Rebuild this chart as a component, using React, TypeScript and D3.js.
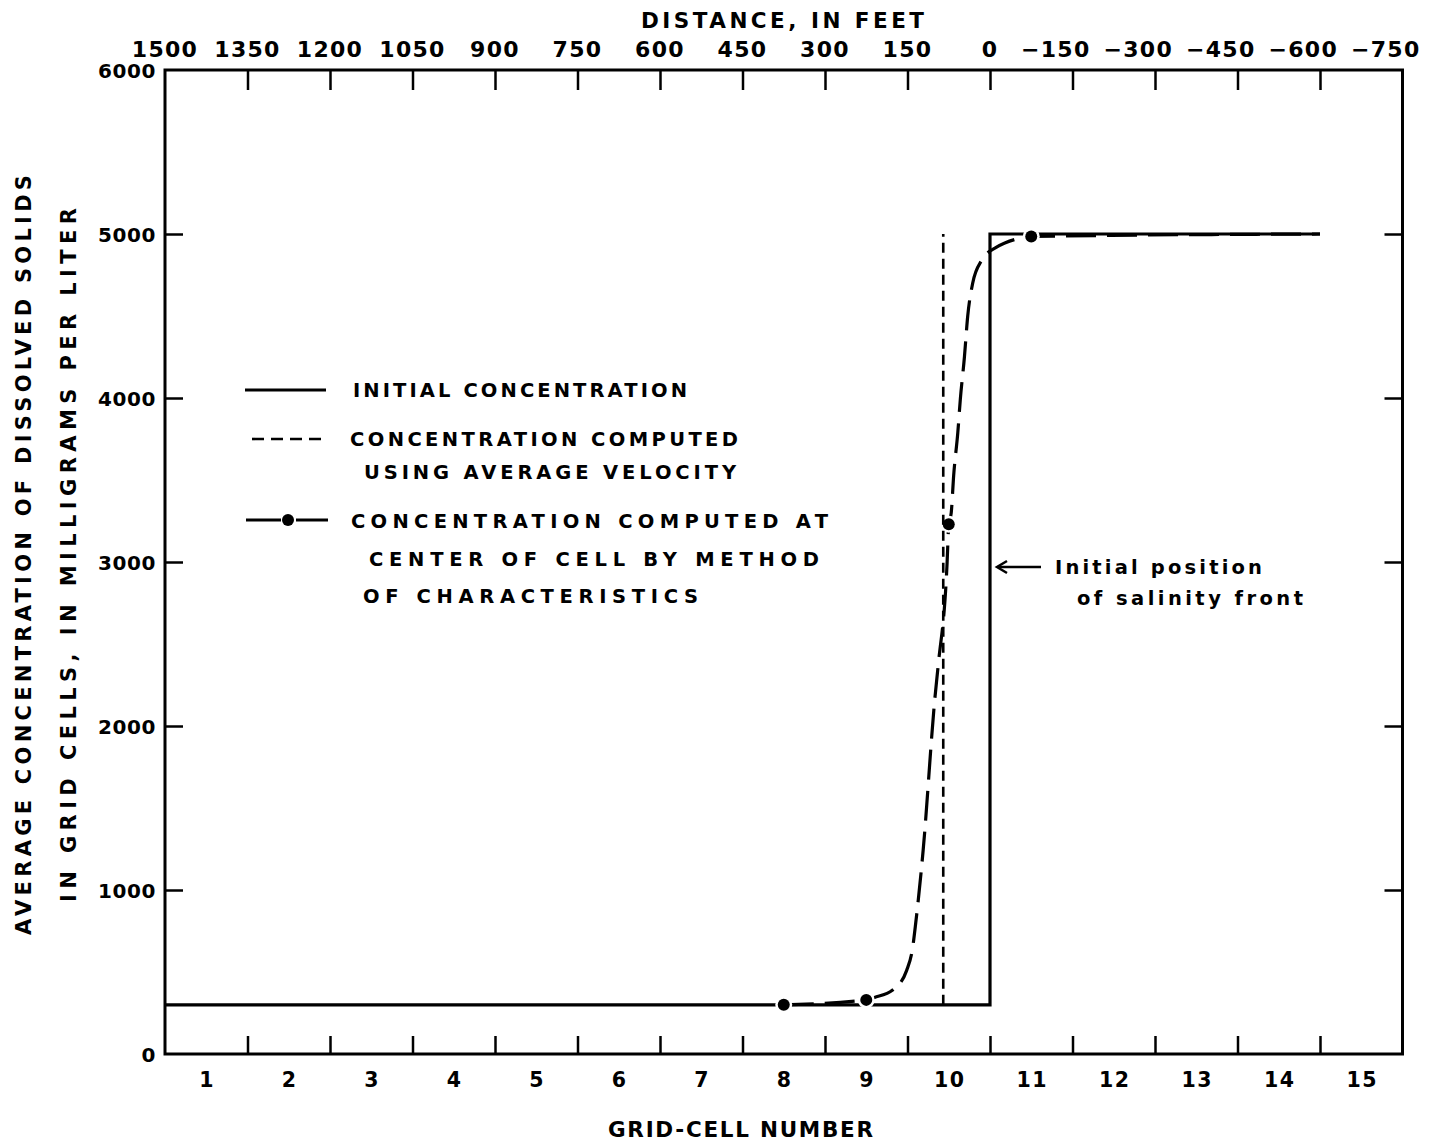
import React, { useEffect, useRef } from "react";
import * as d3 from "d3";

// grid cells along the bottom, distance along the top
const cellNumbers = [1, 2, 3, 4, 5, 6, 7, 8, 9, 10, 11, 12, 13, 14, 15];
const distanceTicks = [1500, 1350, 1200, 1050, 900, 750, 600, 450, 300, 150, 0, -150, -300, -450, -600, -750];
const concentrationTicks = [0, 1000, 2000, 3000, 4000, 5000, 6000];

// initial concentration (step at the cell 10/11 boundary)
const initialCells = [0.5, 10.5, 10.5, 14.5];
const initialConc = [300, 300, 5000, 5000];

// concentration computed using average velocity (sharp front, in feet)
const avgFrontFeet = [85, 85];
const avgFrontConc = [300, 5000];

// method of characteristics: values at cell centres
const mocDotCells = [8, 9, 10, 11];
const mocDotConc = [300, 330, 3230, 4985];

// method of characteristics: smooth curve
const mocCurveCells = [8, 9, 9.1, 9.32, 9.49, 9.56, 9.6, 9.69, 9.83, 9.87, 9.98, 10, 10.03, 10.06, 10.11, 10.14, 10.19, 10.23, 10.29, 10.4, 10.58, 10.68, 10.92, 11, 14.5];
const mocCurveConc = [300, 330, 345, 390, 510, 640, 800, 1244, 2159, 2360, 2994, 3230, 3300, 3530, 3790, 3990, 4250, 4500, 4700, 4840, 4920, 4945, 4980, 4985, 5000];

const FONT = "'DejaVu Sans', 'Liberation Sans', Arial, sans-serif";

const App = () => {
  const svgRef = useRef(null);

  useEffect(() => {
    const svg = d3.select(svgRef.current);
    svg.selectAll("*").remove();

    const width = 1432;
    const height = 1141;
    const margin = { top: 70, right: 29.5, bottom: 87, left: 165 };
    const x0 = margin.left;
    const x1 = width - margin.right;
    const y0 = height - margin.bottom;
    const y1 = margin.top;

    const x = d3.scaleLinear().domain([0.5, 15.5]).range([x0, x1]);
    const xDist = d3.scaleLinear().domain([1500, -750]).range([x0, x1]);
    const y = d3.scaleLinear().domain([0, 6000]).range([y0, y1]);

    svg.append("rect").attr("width", width).attr("height", height).attr("fill", "#fff");

    const boundaries = cellNumbers.slice(0, -1).map((c) => c + 0.5);
    const yInner = concentrationTicks.slice(1, -1);

    const styleAxis = (g) => {
      g.select(".domain").remove();
      g.selectAll("line").attr("stroke", "#000").attr("stroke-width", 2.5);
    };

    svg.append("g").attr("transform", `translate(0,${y0})`)
      .call(d3.axisTop(x).tickValues(boundaries).tickSize(18).tickFormat(() => ""))
      .call(styleAxis);
    svg.append("g").attr("transform", `translate(0,${y1})`)
      .call(d3.axisBottom(x).tickValues(boundaries).tickSize(20).tickFormat(() => ""))
      .call(styleAxis);
    svg.append("g").attr("transform", `translate(${x0},0)`)
      .call(d3.axisRight(y).tickValues(yInner).tickSize(18).tickFormat(() => ""))
      .call(styleAxis);
    svg.append("g").attr("transform", `translate(${x1},0)`)
      .call(d3.axisLeft(y).tickValues(yInner).tickSize(18).tickFormat(() => ""))
      .call(styleAxis);

    svg.append("rect")
      .attr("x", x0).attr("y", y1)
      .attr("width", x1 - x0).attr("height", y0 - y1)
      .attr("fill", "none").attr("stroke", "#000").attr("stroke-width", 3);

    const text = (g) =>
      g.attr("font-family", FONT).attr("font-weight", "bold").attr("fill", "#000");

    // bottom cell labels
    svg.append("g").call(text)
      .attr("font-size", 20.5).attr("text-anchor", "middle").style("letter-spacing", "1.5px")
      .selectAll("text").data(cellNumbers).join("text")
      .attr("x", (d) => x(d) + 1).attr("y", y0 + 33).text((d) => d);

    // top distance labels
    svg.append("g").call(text)
      .attr("font-size", 22).style("letter-spacing", "1.3px")
      .selectAll("text").data(distanceTicks).join("text")
      .attr("text-anchor", (d) => (d < 0 ? "end" : "middle"))
      .attr("x", (d) => (d < 0 ? xDist(d) + 18 : xDist(d)))
      .attr("y", y1 - 13)
      .text((d) => (d < 0 ? `\u2212${-d}` : d));

    // left concentration labels
    svg.append("g").call(text)
      .attr("font-size", 20).attr("text-anchor", "end").style("letter-spacing", "0.6px")
      .selectAll("text").data(concentrationTicks).join("text")
      .attr("x", x0 - 9).attr("y", (d) => y(d) + 7.5).text((d) => d);

    // axis titles
    svg.append("text").call(text)
      .attr("font-size", 21.5).attr("x", 641).attr("y", 28)
      .attr("textLength", 283).attr("lengthAdjust", "spacing")
      .text("DISTANCE, IN FEET");
    svg.append("text").call(text)
      .attr("font-size", 21.5).attr("x", 608).attr("y", 1137)
      .attr("textLength", 265).attr("lengthAdjust", "spacing")
      .text("GRID-CELL NUMBER");

    const yTitle = svg.append("g").call(text).attr("font-size", 21);
    yTitle.append("text")
      .attr("transform", "translate(31,935) rotate(-90)")
      .attr("textLength", 760).attr("lengthAdjust", "spacing")
      .text("AVERAGE CONCENTRATION OF DISSOLVED SOLIDS");
    yTitle.append("text")
      .attr("transform", "translate(76,902) rotate(-90)")
      .attr("textLength", 694).attr("lengthAdjust", "spacing")
      .text("IN GRID CELLS, IN MILLIGRAMS PER LITER");

    // initial concentration
    const line = d3.line().x((d) => d[0]).y((d) => d[1]);
    svg.append("path")
      .attr("d", line(initialCells.map((c, i) => [x(c), y(initialConc[i])])))
      .attr("fill", "none").attr("stroke", "#000").attr("stroke-width", 3.2)
      .attr("stroke-linejoin", "miter");

    // method of characteristics curve
    const curve = d3.line().x((d) => d[0]).y((d) => d[1]).curve(d3.curveMonotoneX);
    svg.append("path")
      .attr("d", curve(mocCurveCells.map((c, i) => [x(c), y(mocCurveConc[i])])))
      .attr("fill", "none").attr("stroke", "#000").attr("stroke-width", 3.2)
      .attr("stroke-dasharray", "30 11");

    const dots = mocDotCells.map((c, i) => [x(c), y(mocDotConc[i])]);
    svg.append("g").selectAll("circle").data(dots).join("circle")
      .attr("cx", (d) => d[0]).attr("cy", (d) => d[1]).attr("r", 8.5).attr("fill", "#fff");
    svg.append("g").selectAll("circle").data(dots).join("circle")
      .attr("cx", (d) => d[0]).attr("cy", (d) => d[1]).attr("r", 6).attr("fill", "#000");

    // average velocity front
    svg.append("path")
      .attr("d", line(avgFrontFeet.map((f, i) => [xDist(f), y(avgFrontConc[i])])))
      .attr("fill", "none").attr("stroke", "#000").attr("stroke-width", 2.6)
      .attr("stroke-dasharray", "10 6");

    // legend
    const legend = svg.append("g");
    legend.append("line").attr("x1", 245).attr("x2", 326).attr("y1", 390).attr("y2", 390)
      .attr("stroke", "#000").attr("stroke-width", 3);
    legend.append("line").attr("x1", 252).attr("x2", 322).attr("y1", 439).attr("y2", 439)
      .attr("stroke", "#000").attr("stroke-width", 2.6).attr("stroke-dasharray", "12 7");
    legend.append("line").attr("x1", 246).attr("x2", 281).attr("y1", 520).attr("y2", 520)
      .attr("stroke", "#000").attr("stroke-width", 3);
    legend.append("line").attr("x1", 296).attr("x2", 328).attr("y1", 520).attr("y2", 520)
      .attr("stroke", "#000").attr("stroke-width", 3);
    legend.append("circle").attr("cx", 288).attr("cy", 520).attr("r", 6).attr("fill", "#000");

    // [text, x, baseline, width]
    const legendRows = [
      ["INITIAL CONCENTRATION", 353, 397, 334],
      ["CONCENTRATION COMPUTED", 350, 446, 388],
      ["USING AVERAGE VELOCITY", 364, 479, 372],
      ["CONCENTRATION COMPUTED AT", 351, 528, 477],
      ["CENTER OF CELL BY METHOD", 369, 566, 450],
      ["OF CHARACTERISTICS", 363, 603, 335],
    ];
    legend.append("g").call(text)
      .attr("font-size", 19.5)
      .selectAll("text").data(legendRows).join("text")
      .attr("x", (d) => d[1]).attr("y", (d) => d[2])
      .attr("textLength", (d) => d[3]).attr("lengthAdjust", "spacing")
      .text((d) => d[0]);

    // annotation for the initial front
    const note = svg.append("g");
    note.append("line").attr("x1", 998).attr("x2", 1041).attr("y1", 567).attr("y2", 567)
      .attr("stroke", "#000").attr("stroke-width", 2.5);
    note.append("path").attr("d", "M1007,561 L997,567 L1007,573")
      .attr("fill", "none").attr("stroke", "#000").attr("stroke-width", 2.5);
    note.append("g").call(text)
      .attr("font-size", 19.5)
      .selectAll("text").data([["Initial position", 1055, 574, 207], ["of salinity front", 1077, 605, 226]])
      .join("text")
      .attr("x", (d) => d[1]).attr("y", (d) => d[2])
      .attr("textLength", (d) => d[3]).attr("lengthAdjust", "spacing")
      .text((d) => d[0]);
  }, []);

  return (
    <svg
      ref={svgRef}
      width={1432}
      height={1141}
      style={{ position: "absolute", left: 0, top: 0, display: "block" }}
    ></svg>
  );
};

export default App;
